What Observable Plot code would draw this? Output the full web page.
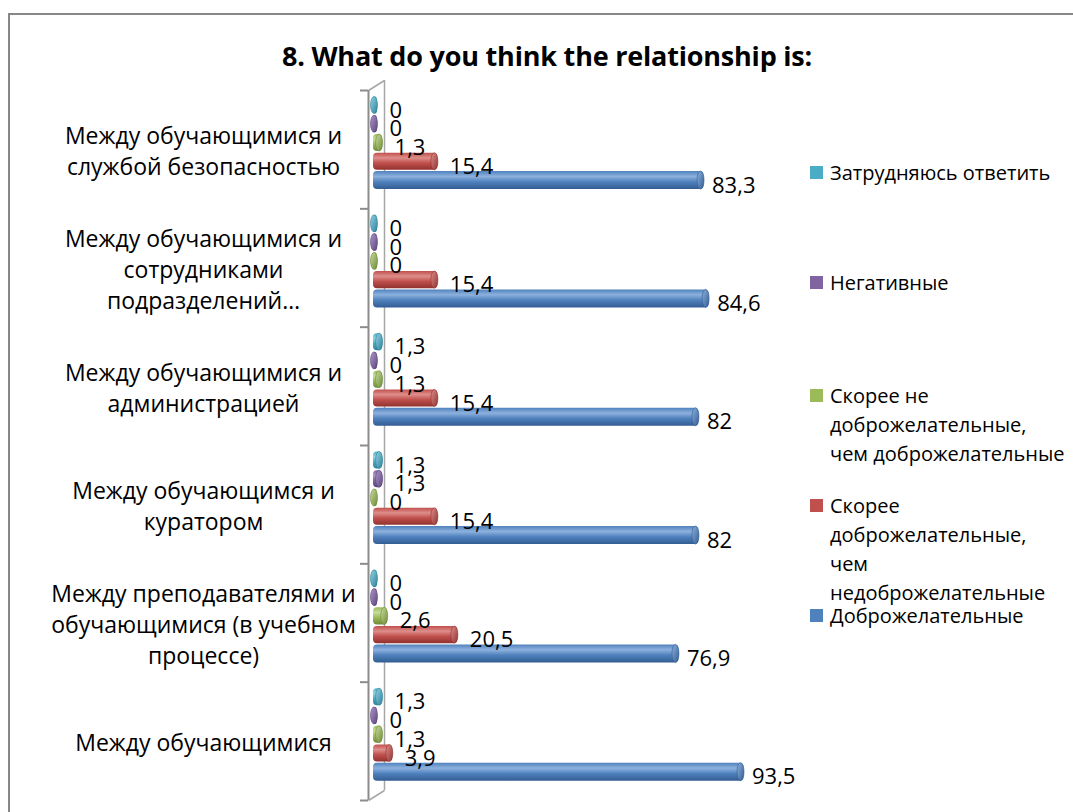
<!DOCTYPE html>
<html>
<head>
<meta charset="utf-8">
<script src="https://cdn.jsdelivr.net/npm/d3@7"></script>
<script src="https://cdn.jsdelivr.net/npm/@observablehq/plot@0.6"></script>
<style>
  html, body { margin: 0; padding: 0; background: #fff; }
  body { width: 1073px; height: 812px; overflow: hidden; position: relative; font-family: "Open Sans", sans-serif; color: #000; }
  #frame { position: absolute; left: 8px; top: 13px; width: 1120px; height: 900px; border: 2px solid #878787; box-sizing: border-box; }
  #title { position: absolute; left: 0; width: 1094px; top: 38px; text-align: center; font-weight: bold; font-size: 27px; line-height: 36px; white-space: nowrap; letter-spacing: -0.2px; }
  #chart { position: absolute; left: 0; top: 0; }
  .item { position: absolute; left: 810px; font-size: 20px; line-height: 29px; white-space: nowrap; }
  .sw { position: absolute; left: 0; top: 8px; width: 13px; height: 13px; }
  .lbl { position: absolute; left: 20px; top: 0; }
</style>
</head>
<body>
<svg width="0" height="0" style="position:absolute">
  <defs id="defs"></defs>
</svg>
<div id="frame"></div>
<div id="title">8. What do you think the relationship is:</div>
<div id="chart"></div>
<div id="legend"></div>
<script>
// ---------- data ----------
const categories = [
  "Между обучающимися и\nслужбой безопасностью",
  "Между обучающимися и\nсотрудниками\nподразделений…",
  "Между обучающимися и\nадминистрацией",
  "Между обучающимся и\nкуратором",
  "Между преподавателями и\nобучающимися (в учебном\nпроцессе)",
  "Между обучающимися"
];
const seriesNames = [
  "Затрудняюсь ответить",
  "Негативные",
  "Скорее не\nдоброжелательные,\nчем доброжелательные",
  "Скорее\nдоброжелательные,\nчем\nнедоброжелательные",
  "Доброжелательные"
];
const difficult   = [0, 0, 1.3, 1.3, 0, 1.3];
const negative    = [0, 0, 0, 1.3, 0, 0];
const ratherNot   = [1.3, 0, 1.3, 0, 2.6, 1.3];
const ratherYes   = [15.4, 15.4, 15.4, 15.4, 20.5, 3.9];
const friendly    = [83.3, 84.6, 82, 82, 76.9, 93.5];
const seriesValues = [difficult, negative, ratherNot, ratherYes, friendly];

// ---------- styles ----------
const colors = [
  {base: "#4BACC6", light: "#93D3E3", dark: "#2D8199"},
  {base: "#8064A2", light: "#AD97C8", dark: "#5A447D"},
  {base: "#9BBB59", light: "#C6DC9C", dark: "#6F8A38"},
  {base: "#C0504D", light: "#DE8E8B", dark: "#913230"},
  {base: "#4F81BD", light: "#8DB1DD", dark: "#335D93"}
];
const defs = document.getElementById("defs");
colors.forEach((c, i) => {
  defs.insertAdjacentHTML("beforeend", `
    <linearGradient id="g${i}" x1="0" y1="0" x2="0" y2="1">
      <stop offset="0" stop-color="${c.base}"/>
      <stop offset="0.3" stop-color="${c.light}"/>
      <stop offset="0.6" stop-color="${c.base}"/>
      <stop offset="1" stop-color="${c.dark}"/>
    </linearGradient>
    <linearGradient id="c${i}" x1="0" y1="0" x2="1" y2="1">
      <stop offset="0" stop-color="${c.light}"/>
      <stop offset="1" stop-color="${c.dark}"/>
    </linearGradient>`);
});

// ---------- table ----------
const rows = [];
seriesValues.forEach((vals, si) => vals.forEach((v, gi) => rows.push({gi, si, value: v, cat: categories[gi]})));
const fmt = v => String(v).replace(".", ",");

// layout inside each group band (group units)
const off = si => 0.127 + si * 0.1585;
const hh = si => si === 4 ? 0.076 : 0.072;

const marginLeft = 374, width = 770, marginRight = 4;
const marginTop = 90, height = 812, marginBottom = 12;
const pxPerUnit = (width - marginLeft - marginRight) / 100;
const pxPerGroup = (height - marginTop - marginBottom) / 6;
const front = -6 / pxPerUnit;
const back = 10 / pxPerUnit;
const rise = 10 / pxPerGroup;

const marks = [];
// 3D wall
marks.push(Plot.ruleX([0], {dx: -6, y1: 0, y2: 6, stroke: "#8c8c8c", strokeWidth: 2}));
marks.push(Plot.ruleX([0], {dx: 10, dy: -10, y1: 0, y2: 6, stroke: "#a6a6a6", strokeWidth: 1.5}));
marks.push(Plot.ruleY(d3.range(0, 7), {x1: 0, x2: 0, insetLeft: -14, insetRight: 6, stroke: "#8c8c8c", strokeWidth: 2}));
marks.push(Plot.link([0, 6], {x1: front, x2: back, y1: d => d, y2: d => d - rise, stroke: "#a6a6a6", strokeWidth: 1.5}));

seriesValues.forEach((vals, si) => {
  const data = rows.filter(d => d.si === si);
  marks.push(Plot.rect(data, {
    x1: d => 0, x2: "value",
    y1: d => d.gi + off(si) - hh(si), y2: d => d.gi + off(si) + hh(si),
    fill: `url(#g${si})`, insetLeft: -1, insetRight: -3, rx: 4
  }));
  marks.push(Plot.rect(data, {
    x1: "value", x2: "value",
    y1: d => d.gi + off(si) - hh(si), y2: d => d.gi + off(si) + hh(si),
    fill: `url(#c${si})`, stroke: colors[si].dark, strokeWidth: 0.6,
    insetLeft: -3.5, insetRight: -3.5, rx: 3.5, ry: 9
  }));
});
// data labels on top of all bars
seriesValues.forEach((vals, si) => {
  const data = rows.filter(d => d.si === si);
  marks.push(Plot.text(data, {
    x: "value", y: d => d.gi + off(si), text: d => fmt(d.value),
    dx: si === 4 ? 11 : 15, dy: 5, textAnchor: "start", fontSize: 22, fill: "#000"
  }));
});

// category labels
marks.push(Plot.text(categories, {
  y: (d, i) => i + 0.5, text: d => d, frameAnchor: "left", dx: -171,
  textAnchor: "middle", lineAnchor: "middle", lineHeight: 1.35, fontSize: 23, fill: "#000"
}));

const chart = Plot.plot({
  width, height,
  marginLeft, marginRight, marginTop, marginBottom,
  x: {domain: [0, 100], axis: null},
  y: {domain: [0, 6], range: [marginTop, height - marginBottom], axis: null},
  style: {fontFamily: "Open Sans, sans-serif", background: "transparent", color: "#000", overflow: "visible"},
  marks
});
document.getElementById("chart").appendChild(chart);

// legend
const legendTops = [172, 282, 395, 505, 615];
const legend = document.getElementById("legend");
seriesNames.forEach((name, i) => {
  const div = document.createElement("div");
  div.className = "item";
  div.style.top = (legendTops[i] - 14.5) + "px";
  div.innerHTML = `<div class="sw" style="background:${colors[i].base}"></div><div class="lbl">${name.split("\n").join("<br>")}</div>`;
  legend.appendChild(div);
});
</script>
</body>
</html>
